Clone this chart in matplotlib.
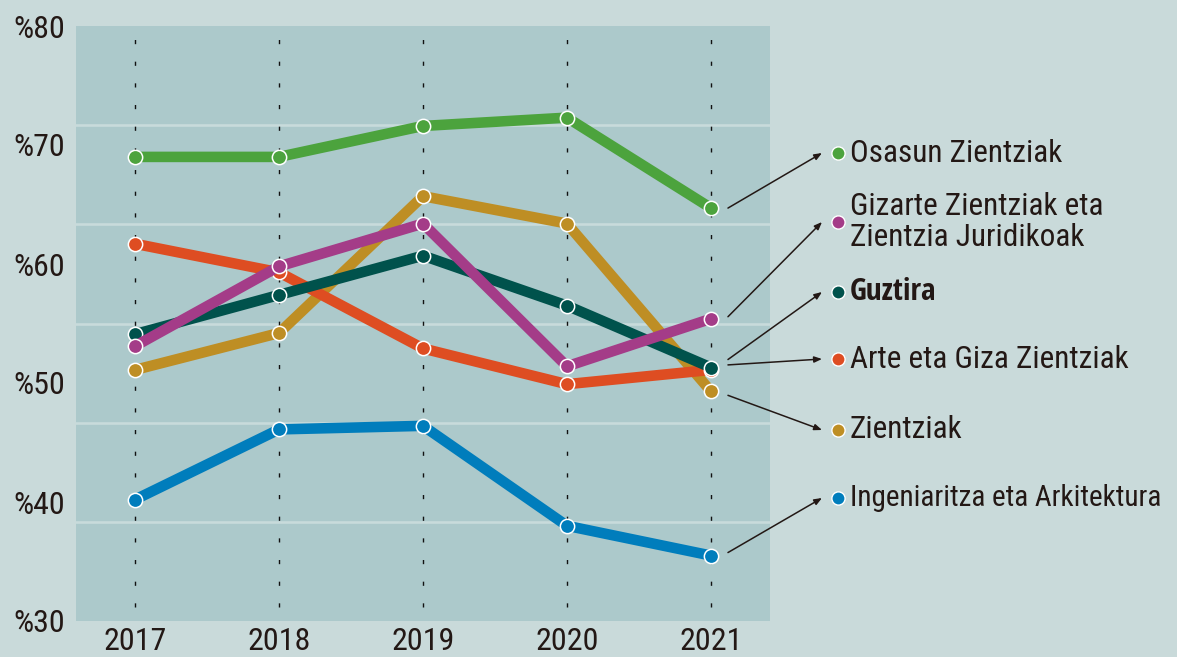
import matplotlib
matplotlib.use("Agg")
import matplotlib.pyplot as plt
from matplotlib import font_manager
from matplotlib.font_manager import FontProperties
from matplotlib.lines import Line2D
from matplotlib.transforms import IdentityTransform

# ---------------- data ----------------
years = [2017, 2018, 2019, 2020, 2021]
osasun = [69.0, 69.0, 71.6, 72.3, 64.7]
gizarte = [53.1, 59.8, 63.4, 51.4, 55.4]
guztira = [54.1, 57.4, 60.7, 56.5, 51.3]
arte = [61.7, 59.3, 52.9, 49.9, 51.1]
zientziak = [51.1, 54.2, 65.7, 63.4, 49.3]
ingeniaritza = [40.2, 46.1, 46.4, 38.0, 35.5]

series_names = ["Osasun Zientziak", "Gizarte Zientziak eta\nZientzia Juridikoak", "Guztira",
                "Arte eta Giza Zientziak", "Zientziak", "Ingeniaritza eta Arkitektura"]
series_values = [osasun, gizarte, guztira, arte, zientziak, ingeniaritza]
series_colors = ["#4ca33d", "#a43c88", "#00524c", "#de4d22", "#be8e24", "#007dbc"]
draw_order = [5, 0, 4, 3, 2, 1]  # bottom to top

ytick_vals = [30, 40, 50, 60, 70, 80]
ytick_labels = ["%30", "%40", "%50", "%60", "%70", "%80"]
xtick_labels = ["2017", "2018", "2019", "2020", "2021"]


# ---------------- font selection (prefer a condensed face) ----------------
def _wnum(w):
    if isinstance(w, (int, float)):
        return int(w)
    return font_manager.weight_dict.get(str(w).lower(), 400)


def _is_cond(f):
    st = str(f.stretch).lower()
    nm = f.name.lower()
    if isinstance(f.stretch, (int, float)):
        return 300 <= f.stretch <= 450
    if st in ("condensed", "semi-condensed"):
        return True
    return ("condensed" in nm or "narrow" in nm) and "extra" not in nm and "ultra" not in nm


pref = ["liberation sans narrow", "noto sans", "open sans", "roboto", "dejavu sans", "lato", "inter"]


def _rank(f):
    nm = f.name.lower()
    for i, p in enumerate(pref):
        if nm.startswith(p):
            return i
    return len(pref)


def pick(bold):
    target = 700 if bold else 400
    cands = [f for f in font_manager.fontManager.ttflist
             if _is_cond(f) and f.style == "normal" and abs(_wnum(f.weight) - target) <= 50
             and "mono" not in f.name.lower() and "serif" not in f.name.lower()
             and "cjk" not in f.name.lower()]
    cands.sort(key=_rank)
    return cands[0].fname if cands else None


FS = 22.5
reg_path = pick(False)
bold_path = pick(True)


def fprop(size, bold=False):
    if reg_path:
        if bold:
            if bold_path:
                return FontProperties(fname=bold_path, size=size)
            return FontProperties(fname=reg_path, size=size, weight="bold")
        return FontProperties(fname=reg_path, size=size)
    return FontProperties(family="Roboto", size=size * 0.85, weight="bold" if bold else "normal")


TXT = "#231815"
FIG_BG = "#c9dada"
AX_BG = "#acc9cb"
GRID = "#c8dbdb"

W, H = 1177, 657
fig = plt.figure(figsize=(W / 100, H / 100), dpi=100, facecolor=FIG_BG)

L, R, T, B = 76, 770, 26, 621
ax = fig.add_axes([L / W, 1 - B / H, (R - L) / W, (B - T) / H])
ax.set_facecolor(AX_BG)
for s in ax.spines.values():
    s.set_visible(False)

ax.set_xlim(2016.59, 2021.41)
ax.set_ylim(30, 80)

# horizontal light grid lines (6 divisions)
for k in range(1, 6):
    ax.axhline(30 + k * 50 / 6, color=GRID, lw=1.9, zorder=1)

# dashed verticals
ax.vlines(years, 31.2, 79.4, colors="#111111", lw=1.0,
          linestyles=[(0, (3.0, 12.6))], zorder=2)

for i in draw_order:
    ax.plot(years, series_values[i], color=series_colors[i], lw=7.6,
            solid_joinstyle="round", solid_capstyle="butt",
            marker="o", ms=10.3, mfc=series_colors[i], mec="white", mew=1.1,
            zorder=3 + draw_order.index(i))

ax.set_yticks(ytick_vals)
ax.set_yticklabels(ytick_labels)
ax.set_xticks(years)
ax.set_xticklabels(xtick_labels)
for lab in ax.get_yticklabels() + ax.get_xticklabels():
    lab.set_fontproperties(fprop(23))
    lab.set_color(TXT)
ax.tick_params(axis="y", length=0, pad=8)
ax.tick_params(axis="x", length=0, pad=4)

# ---------------- legend with arrows ----------------
label_y = [153, 222, 292, 359, 430, 498]  # pixel rows from top (layout)
label_size = [FS, FS, FS, FS, FS, 21]
start_dy = [0, -2, -8, -5, 4, -3]
dot_x, text_x, arrow_end_x = 838, 850, 822
disp = IdentityTransform()
for i, name in enumerate(series_names):
    yy = H - label_y[i]
    px, py = ax.transData.transform((years[-1], series_values[i][-1]))
    sx, sy = px + 17, py - start_dy[i]
    fig.add_artist(Line2D([dot_x], [yy], transform=disp, marker="o", ms=9.5,
                          mfc=series_colors[i], mec="white", mew=1.0, lw=0))
    fp = fprop(label_size[i], bold=(name == "Guztira"))
    fig.text(text_x, yy, name, transform=disp, fontproperties=fp, color=TXT,
             ha="left", va="center", linespacing=1.05)
    ax.annotate("", xy=(arrow_end_x, yy), xycoords=disp,
                xytext=(sx, sy), textcoords=disp,
                arrowprops=dict(arrowstyle="-|>,head_length=0.45,head_width=0.18",
                                color=TXT, lw=1.1, shrinkA=0, shrinkB=0),
                annotation_clip=False, zorder=20)

fig.savefig("out.png", dpi=100, facecolor=FIG_BG)
